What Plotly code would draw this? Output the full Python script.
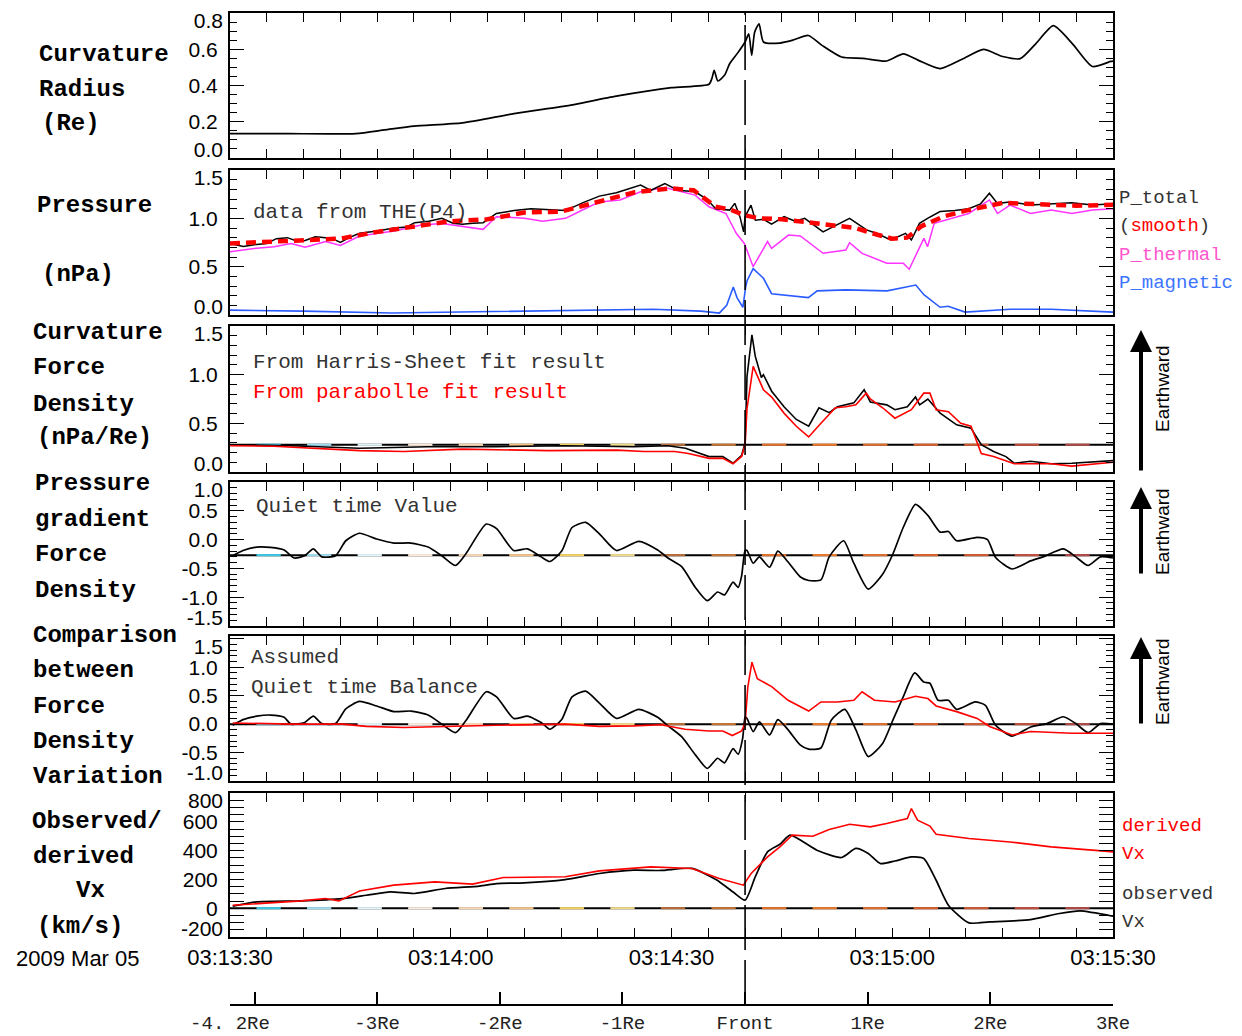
import pandas as pd
import plotly.graph_objects as go

# ---------------- data (time in seconds after 2009-03-05 03:13:30) ----------------
BASE = pd.Timestamp("2009-03-05 03:13:30")
T_END = 120
front_t = 70

curv_radius = [(0, 0.135), (8, 0.134), (17.1, 0.135), (21, 0.155), (25.0, 0.176), (31.6, 0.194),
               (38.6, 0.245), (45.5, 0.286), (52.5, 0.341), (60.0, 0.388), (65.1, 0.407), (65.5, 0.44),
               (65.8, 0.484), (66.3, 0.425), (67.2, 0.456), (67.9, 0.52), (69.0, 0.58), (70.0, 0.64),
               (70.5, 0.685), (70.9, 0.566), (71.3, 0.694), (71.9, 0.74), (72.5, 0.64), (74.7, 0.634),
               (76.5, 0.65), (78.6, 0.676), (80.5, 0.62), (83.1, 0.557), (86, 0.55), (89.2, 0.535),
               (91.5, 0.575), (93.5, 0.54), (96.5, 0.493), (99.5, 0.545), (102.4, 0.599), (105, 0.56),
               (107.4, 0.548), (109.5, 0.63), (111.9, 0.73), (114.5, 0.63), (117.2, 0.505),
               (119.7, 0.533), (120, 0.535)]

p_total = [(0, 0.74), (1.8, 0.71), (3.6, 0.73), (5.0, 0.74), (6.3, 0.79), (7.8, 0.80), (9.2, 0.76),
           (10.2, 0.77), (11.6, 0.81), (13.0, 0.80), (14.2, 0.78), (15.0, 0.75), (16.2, 0.80),
           (17.6, 0.845), (20.0, 0.87), (22.3, 0.90), (24.0, 0.91), (25.1, 0.955), (27.0, 0.97),
           (28.8, 1.0), (30.3, 0.95), (31.6, 0.94), (33.0, 0.95), (34.4, 0.955), (36.2, 1.05),
           (38.6, 1.08), (40.9, 1.10), (43.0, 1.09), (45.6, 1.08), (47.9, 1.16), (50.2, 1.23),
           (52.5, 1.265), (54.0, 1.30), (55.8, 1.345), (57.2, 1.29), (59.1, 1.36), (60.9, 1.29),
           (63.2, 1.275), (64.8, 1.20), (66.0, 1.10), (67.9, 1.085), (68.6, 1.155), (69.3, 1.017),
           (69.8, 0.86), (70.0, 1.017), (70.8, 1.137), (71.4, 0.98), (72.5, 0.99), (73.6, 0.94),
           (75.3, 1.017), (76.8, 0.97), (78.1, 1.0), (80.6, 0.86), (82.5, 0.93), (84.2, 1.0),
           (86.5, 0.88), (88.0, 0.84), (89.8, 0.776), (91.8, 0.845), (92.6, 0.776), (93.7, 0.948),
           (94.8, 1.0), (96.5, 1.07), (98.5, 1.08), (100.4, 1.10), (102.0, 1.15), (103.2, 1.26),
           (104.3, 1.155), (106.0, 1.17), (108.8, 1.137), (111.5, 1.15), (114.4, 1.16),
           (117.2, 1.137), (120.0, 1.15)]

p_smooth = [(0, 0.74), (5, 0.76), (10, 0.78), (15, 0.79), (20, 0.86), (25, 0.92), (30, 0.97),
            (35, 0.99), (40, 1.06), (45, 1.07), (50, 1.17), (55, 1.27), (60, 1.31), (63, 1.29),
            (66, 1.12), (68, 1.09), (70, 1.03), (72, 1.0), (75, 0.99), (80, 0.95), (85, 0.90),
            (88, 0.83), (90, 0.79), (92, 0.80), (94, 0.92), (97, 1.02), (100, 1.08), (105, 1.16),
            (110, 1.14), (115, 1.13), (120, 1.14)]

p_thermal = [(0, 0.655), (3.6, 0.69), (6.0, 0.705), (8.3, 0.74), (10.2, 0.70), (11.1, 0.72),
             (13.0, 0.76), (15.0, 0.72), (17.6, 0.817), (22.3, 0.87), (26.0, 0.93), (28.8, 0.947),
             (31.6, 0.913), (34.4, 0.886), (36.2, 1.017), (40.0, 1.0), (42.5, 0.97), (45.6, 1.0),
             (47.9, 1.086), (50.2, 1.17), (53.0, 1.19), (55.8, 1.275), (59.1, 1.32), (63.2, 1.24),
             (65.1, 1.12), (67.4, 1.05), (68.8, 0.845), (69.9, 0.74), (71.1, 0.5), (73.05, 0.76),
             (73.6, 0.69), (75.9, 0.827), (77.5, 0.817), (80.6, 0.638), (83.7, 0.672), (84.2, 0.748),
             (85.9, 0.638), (89.25, 0.535), (91.5, 0.535), (92.3, 0.473), (94.3, 0.793),
             (94.8, 0.706), (95.7, 0.948), (100.4, 1.05), (103.2, 1.19), (104.3, 1.05),
             (106.0, 1.137), (108.8, 1.05), (111.6, 1.086), (114.4, 1.05), (117.2, 1.086),
             (120, 1.10)]

p_magnetic = [(0, 0.05), (10, 0.04), (22, 0.02), (30, 0.03), (45.5, 0.05), (57.5, 0.06), (64, 0.04),
              (66.5, 0.02), (67.5, 0.10), (68.4, 0.29), (68.9, 0.18), (69.7, 0.08), (70.1, 0.30),
              (70.3, 0.36), (71.1, 0.48), (72.5, 0.38), (73.6, 0.22), (75.9, 0.20), (78.6, 0.18),
              (79.8, 0.25), (83.7, 0.26), (89.3, 0.25), (93.2, 0.31), (94.3, 0.21), (96.5, 0.08),
              (97.6, 0.09), (99.9, 0.03), (106, 0.06), (111.6, 0.06), (120, 0.03)]

curv_force_harris = [(0, 0.28), (8.3, 0.27), (17.6, 0.244), (26.9, 0.26), (36.2, 0.26), (45.5, 0.27),
                     (54.9, 0.26), (59.5, 0.27), (61.9, 0.244), (65.1, 0.158), (66.97, 0.158),
                     (68.36, 0.09), (69.53, 0.17), (70.0, 0.30), (70.26, 0.98), (70.93, 1.41),
                     (71.38, 1.19), (72.21, 0.97), (72.49, 0.999), (73.61, 0.83), (75.29, 0.67),
                     (76.96, 0.54), (78.64, 0.47), (80.04, 0.66), (81.43, 0.61), (82.55, 0.67),
                     (84.78, 0.71), (86.18, 0.845), (87.02, 0.72), (89.25, 0.69), (90.37, 0.64),
                     (92.05, 0.67), (93.16, 0.77), (93.72, 0.69), (94.84, 0.75), (96.51, 0.605),
                     (98.75, 0.485), (100.7, 0.45), (102.1, 0.28), (103.77, 0.21), (105.45, 0.158),
                     (106.57, 0.09), (108.8, 0.11), (111.6, 0.085), (114.39, 0.09), (120, 0.117)]

curv_force_parab = [(0, 0.27), (5.96, 0.265), (17.6, 0.22), (23.66, 0.21), (31.57, 0.235),
                    (43.22, 0.22), (52.53, 0.225), (56.26, 0.21), (60.45, 0.21), (62.31, 0.19),
                    (65.1, 0.14), (66.97, 0.14), (68.36, 0.085), (69.53, 0.16), (70.0, 0.28),
                    (70.26, 0.65), (71.1, 1.085), (72.49, 0.845), (73.61, 0.77), (75.29, 0.605),
                    (76.96, 0.47), (78.64, 0.36), (80.31, 0.50), (82.27, 0.66), (83.67, 0.67),
                    (85.06, 0.69), (86.46, 0.81), (87.02, 0.75), (88.69, 0.66), (90.37, 0.553),
                    (92.6, 0.64), (94.28, 0.81), (95.12, 0.81), (95.96, 0.64), (97.63, 0.62),
                    (99.31, 0.50), (100.7, 0.47), (102.1, 0.19), (103.77, 0.16), (106.57, 0.085),
                    (111.6, 0.085), (114.39, 0.06), (120, 0.10)]
curv_force_quiet = 0.28

press_grad = [(0.37, -0.28), (1.77, -0.19), (3.63, -0.13), (5.50, -0.135), (7.36, -0.18),
              (8.75, -0.32), (10.15, -0.28), (11.32, -0.16), (12.48, -0.30), (14.34, -0.28),
              (15.74, -0.02), (17.6, 0.11), (19.93, 0.01), (22.26, -0.06), (24.59, -0.06),
              (26.92, -0.13), (28.78, -0.28), (30.64, -0.45), (32.04, -0.25), (34.83, 0.27),
              (36.23, 0.19), (38.56, -0.19), (40.42, -0.16), (42.29, -0.30), (43.45, -0.38),
              (45.08, -0.2), (46.48, 0.21), (48.34, 0.30), (50.2, 0.10), (52.53, -0.19),
              (55.56, -0.03), (58.12, -0.18), (59.52, -0.32), (61.38, -0.47), (63.24, -0.83),
              (64.87, -1.06), (66.27, -0.91), (67.2, -0.96), (68.36, -0.74), (69.06, -0.83),
              (69.53, -0.63), (70.0, -0.19), (70.26, -0.19), (71.1, -0.41), (71.94, -0.30),
              (73.33, -0.48), (74.45, -0.2), (75.85, -0.39), (77.52, -0.65), (78.64, -0.71),
              (80.31, -0.70), (81.43, -0.30), (83.39, -0.02), (84.78, -0.41), (86.74, -0.86),
              (88.69, -0.6), (90.09, -0.25), (91.49, 0.21), (93.16, 0.61), (94.84, 0.42),
              (96.51, 0.13), (97.63, 0.14), (98.75, -0.02), (101.54, 0.04), (102.94, 0.0),
              (104.05, -0.31), (106.29, -0.51), (108.8, -0.37), (110.48, -0.30), (113.27, -0.16),
              (114.95, -0.30), (116.62, -0.45), (118.3, -0.30), (120, -0.32)]
press_grad_quiet = -0.27

cmp_pressure = [(0.37, -0.02), (1.77, 0.08), (3.63, 0.14), (5.5, 0.16), (7.36, 0.12), (8.29, 0.0),
                (10.15, 0.03), (11.32, 0.14), (12.48, 0.01), (14.34, 0.01), (15.74, 0.27),
                (17.6, 0.40), (19.93, 0.32), (22.26, 0.22), (24.59, 0.23), (26.92, 0.16),
                (28.78, 0.0), (30.64, -0.15), (32.04, 0.06), (34.83, 0.57), (36.23, 0.48),
                (38.56, 0.10), (40.42, 0.14), (42.29, 0.03), (43.45, -0.09), (45.08, 0.08),
                (46.48, 0.48), (48.34, 0.58), (50.2, 0.37), (52.53, 0.10), (55.56, 0.26),
                (58.12, 0.12), (59.52, -0.03), (61.38, -0.22), (63.24, -0.54), (64.87, -0.78),
                (66.27, -0.60), (67.2, -0.68), (68.36, -0.43), (69.06, -0.53), (69.67, -0.25),
                (70.0, 0.13), (70.26, 0.10), (71.1, -0.13), (71.94, 0.04), (73.33, -0.19),
                (74.45, 0.08), (75.85, -0.1), (77.52, -0.37), (78.64, -0.44), (80.31, -0.42),
                (81.71, 0.07), (83.55, 0.26), (85.06, -0.1), (86.74, -0.57), (88.69, -0.34),
                (90.09, 0.07), (91.49, 0.48), (93.05, 0.90), (94.28, 0.74), (95.12, 0.72),
                (96.23, 0.42), (97.63, 0.42), (98.75, 0.26), (101.26, 0.39), (102.66, 0.33),
                (104.05, -0.02), (106.29, -0.21), (108.8, -0.05), (111.04, 0.01), (113.27, 0.13),
                (114.95, 0.01), (116.62, -0.15), (118.3, 0.01), (120, 0.0)]

cmp_curvature = [(0.37, 0.02), (8.29, 0.0), (15.27, 0.0), (18.53, -0.04), (23.66, -0.06),
                 (29.25, -0.04), (36.23, -0.02), (45.55, 0.0), (50.2, -0.04), (54.86, -0.03),
                 (58.58, -0.01), (61.85, -0.09), (65.1, -0.12), (66.97, -0.12), (68.27, -0.2),
                 (69.53, -0.12), (70.0, 0.01), (70.37, 0.65), (70.93, 1.09), (71.66, 0.80),
                 (73.61, 0.66), (75.85, 0.42), (78.64, 0.23), (80.31, 0.39), (82.55, 0.39),
                 (84.78, 0.42), (85.9, 0.57), (87.58, 0.42), (90.37, 0.39), (93.16, 0.49),
                 (94.84, 0.45), (95.96, 0.32), (98.75, 0.22), (101.54, 0.1), (103.22, -0.04),
                 (106.29, -0.19), (108.8, -0.13), (114.39, -0.16), (120, -0.16)]
cmp_quiet = 0.0

vx_observed = [(0.37, 14), (3.63, 44), (9.69, 51), (15.27, 67), (18.53, 90), (21.79, 113),
               (25.05, 102), (29.25, 137), (33.9, 153), (36.23, 171), (39.96, 176), (45.55, 199),
               (50.2, 241), (54.86, 264), (58.58, 262), (62.78, 276), (66.04, 199), (68.36, 113),
               (70.0, 56), (71.38, 217), (73.05, 391), (74.73, 444), (76.12, 507), (79.76, 403),
               (83.11, 352), (85.06, 415), (86.74, 380), (88.41, 310), (90.37, 328), (92.6, 356),
               (94.28, 345), (95.96, 194), (97.63, 21), (100.42, -102), (103.22, -95),
               (108.8, -79), (112.71, -37), (115.5, -19), (120, -56)]

vx_derived = [(0.37, 21), (9.69, 51), (12.95, 67), (14.81, 51), (17.6, 120), (22.26, 160),
              (27.85, 183), (32.97, 167), (37.16, 213), (45.55, 218), (50.2, 259), (57.19, 287),
              (62.78, 276), (66.5, 206), (69.77, 160), (70.82, 241), (73.05, 356), (74.73, 426),
              (76.4, 507), (79.2, 500), (81.43, 546), (84.22, 583), (87.02, 565), (89.25, 588),
              (92.05, 623), (92.6, 692), (93.44, 611), (94.56, 583), (95.12, 570), (95.96, 514),
              (100.42, 484), (106.01, 460), (111.6, 426), (117.18, 403), (120, 391)]
vx_zero = 0

time_ticks_s = [0, 30, 60, 90, 120]
time_tick_labels = ["03:13:30", "03:14:00", "03:14:30", "03:15:00", "03:15:30"]
dist_ticks = [-4.2, -4, -3, -2, -1, 0, 1, 2, 3]
dist_tick_labels = ["-4. 2Re", "", "-3Re", "-2Re", "-1Re", "Front", "1Re", "2Re", "3Re"]

y_ticks = {
    1: ([0.0, 0.2, 0.4, 0.6, 0.8], ["0.0", "0.2", "0.4", "0.6", "0.8"]),
    2: ([0.0, 0.5, 1.0, 1.5], ["0.0", "0.5", "1.0", "1.5"]),
    3: ([0.0, 0.5, 1.0, 1.5], ["0.0", "0.5", "1.0", "1.5"]),
    4: ([-1.5, -1.0, -0.5, 0.0, 0.5, 1.0], ["-1.5", "-1.0", "-0.5", "0.0", "0.5", "1.0"]),
    5: ([-1.0, -0.5, 0.0, 0.5, 1.0, 1.5], ["-1.0", "-0.5", "0.0", "0.5", "1.0", "1.5"]),
    6: ([-200, 0, 200, 400, 600, 800], ["-200", "0", "200", "400", "600", "800"]),
}

# ---------------- style / layout ----------------
W, H = 1242, 1036
MONO = "Liberation Mono"
SANS = "Liberation Sans"
RED = "#ff0000"
MAGENTA = "#ff33ff"
BLUE = "#2a5cff"
EDGE_LABEL_INSET = 0.062   # edge tick labels drawn slightly inside the frame, as in the original


def px(x):
    return x / W


def py(y):
    return 1 - y / H


def T(secs):
    return [BASE + pd.Timedelta(seconds=float(s)) for s in secs]


panel_px = {1: (13, 158), 2: (170, 315), 3: (326, 472), 4: (482, 626), 5: (636, 781), 6: (793, 937)}
y_ranges = {1: [0, 0.8], 2: [0, 1.5], 3: [0, 1.5], 4: [-1.5, 1.0], 5: [-1.0, 1.55], 6: [-200, 800]}
y_minor = {1: 0.05, 2: 0.1, 3: 0.1, 4: 0.1, 5: 0.1, 6: 50}
X_DOM = [px(230), px(1113)]

fig = go.Figure()


def ax(n, kind):
    return kind if n == 1 else f"{kind}{n}"


def add_line(series, n, color, width=1.6, dash=None, smooth=False):
    t, v = zip(*series)
    line = dict(color=color, width=width, dash=dash)
    if smooth:
        line.update(shape="spline", smoothing=0.6)
    fig.add_trace(go.Scatter(x=T(t), y=list(v), xaxis=ax(n, "x"), yaxis=ax(n, "y"), mode="lines",
                             line=line, showlegend=False, hoverinfo="skip"))


# quiet-time reference lines: black base with colored dash segments
SEG_OFFSET, SEG_PERIOD, SEG_LEN = 3.6, 6.87, 3.3
seg_colors = ["#3ec8e6", "#9fdcef", "#e2f3f9", "#fbeadf", "#f6d6b4", "#f2c287", "#f1d062",
              "#eed98c", "#b96f3d", "#c47436", "#e2722c", "#ea7a2c", "#e07030", "#d9622e",
              "#d05c36", "#c05040", "#b04a48"]


def quiet_line(n, q):
    fig.add_trace(go.Scatter(x=T([0, T_END]), y=[q, q], xaxis=ax(n, "x"), yaxis=ax(n, "y"),
                             mode="lines", line=dict(color="black", width=2),
                             showlegend=False, hoverinfo="skip"))
    for i, c in enumerate(seg_colors):
        s = SEG_OFFSET + i * SEG_PERIOD
        if s >= T_END:
            break
        e = min(s + SEG_LEN, T_END)
        fig.add_trace(go.Scatter(x=T([s, e]), y=[q, q], xaxis=ax(n, "x"), yaxis=ax(n, "y"),
                                 mode="lines", line=dict(color=c, width=2.2),
                                 showlegend=False, hoverinfo="skip"))


# panel 1
add_line(curv_radius, 1, "black", 1.7, smooth=True)
# panel 2
add_line(p_thermal, 2, MAGENTA, 1.5)
add_line(p_magnetic, 2, BLUE, 1.6)
add_line(p_total, 2, "black", 1.5)
add_line(p_smooth, 2, RED, 4.5, dash="10px,6px")
# panel 3
quiet_line(3, curv_force_quiet)
add_line(curv_force_harris, 3, "black", 1.6)
add_line(curv_force_parab, 3, RED, 1.6)
# panel 4
quiet_line(4, press_grad_quiet)
add_line(press_grad, 4, "black", 1.7, smooth=True)
# panel 5
quiet_line(5, cmp_quiet)
add_line(cmp_pressure, 5, "black", 1.7, smooth=True)
add_line(cmp_curvature, 5, RED, 1.6)
# panel 6
quiet_line(6, vx_zero)
add_line(vx_observed, 6, "black", 1.7, smooth=True)
add_line(vx_derived, 6, RED, 1.6)

# distance axis carrier (invisible)
fig.add_trace(go.Scatter(x=dist_ticks, y=[None] * len(dist_ticks), xaxis="x7", yaxis="y6",
                         mode="markers", showlegend=False, hoverinfo="skip"))

layout = dict(width=W, height=H, margin=dict(l=0, r=0, t=0, b=0, autoexpand=False),
              paper_bgcolor="white", plot_bgcolor="white", showlegend=False)

TICKFONT = dict(family=SANS, size=21, color="black")

for n in range(1, 7):
    top, bot = panel_px[n]
    xa = dict(domain=X_DOM, anchor=ax(n, "y"), type="date", automargin=False,
              range=T([0, T_END]), showline=True, linecolor="black", linewidth=2,
              mirror="allticks", ticks="inside", ticklen=9, tickwidth=1.4, tickcolor="black",
              tickvals=T(time_ticks_s), ticktext=time_tick_labels,
              minor=dict(ticks="inside", ticklen=5, tickwidth=1.2, tickcolor="black",
                         tick0=BASE, dtick=5000),
              showgrid=False, zeroline=False, showticklabels=(n == 6),
              tickfont=dict(family=SANS, size=22, color="black"))
    if n > 1:
        xa["matches"] = "x"
    tv, tt = y_ticks[n]
    inner_text = [""] + tt[1:-1] + [""]
    ya = dict(domain=[py(bot), py(top)], anchor=ax(n, "x"), range=y_ranges[n], automargin=False,
              showline=True, linecolor="black", linewidth=2, mirror="allticks",
              ticks="inside", ticklen=14, tickwidth=1.4, tickcolor="black",
              tickvals=tv, ticktext=inner_text,
              minor=dict(ticks="inside", ticklen=7, tickwidth=1.2, tickcolor="black",
                         tick0=0, dtick=y_minor[n]),
              showgrid=False, zeroline=False, ticklabelstandoff=6, tickfont=TICKFONT)
    layout[ax(n, "xaxis")] = xa
    layout[ax(n, "yaxis")] = ya
    # edge labels (first/last) on an overlay axis whose range is slightly widened
    lo, hi = y_ranges[n]
    pad = (hi - lo) * EDGE_LABEL_INSET
    layout[f"yaxis{10 + n}"] = dict(domain=[py(bot), py(top)], anchor=ax(n, "x"),
                                    overlaying=ax(n, "y"), side="left", automargin=False,
                                    range=[lo - pad, hi + pad], showline=False, ticks="",
                                    tickvals=[tv[0], tv[-1]], ticktext=[tt[0], tt[-1]],
                                    showgrid=False, zeroline=False, ticklabelstandoff=6,
                                    tickfont=TICKFONT)
    fig.add_trace(go.Scatter(x=T([0]), y=[None], xaxis=ax(n, "x"), yaxis=f"y{10 + n}",
                             mode="markers", showlegend=False, hoverinfo="skip"))

layout["xaxis7"] = dict(domain=X_DOM, anchor="free", position=py(1005), overlaying="x6",
                        range=[-4.2, 3.0], showline=True, linecolor="black", linewidth=2,
                        ticks="inside", ticklen=12, tickwidth=1.5, tickcolor="black",
                        tickvals=dist_ticks, ticktext=dist_tick_labels, side="bottom",
                        showgrid=False, zeroline=False, automargin=False,
                        tickfont=dict(family=MONO, size=19, color="#222"))

fig.update_layout(**layout)

# front marker (dashed vertical line through all panels)
fig.add_shape(type="line", xref="x", yref="paper", x0=T([front_t])[0], x1=T([front_t])[0],
              y0=py(1005), y1=py(13), line=dict(color="black", width=1.6, dash="45px,10px"))

annotations = []


def txt(s, x, y, size, color="black", family=MONO, weight="normal", xanchor="left", angle=0):
    annotations.append(dict(text=s, x=px(x), y=py(y), xref="paper", yref="paper",
                            xanchor=xanchor, yanchor="middle", showarrow=False, textangle=angle,
                            font=dict(family=family, size=size, color=color, weight=weight)))


left_labels = [("Curvature", 37, 54), ("Radius", 37, 89), ("(Re)", 40, 124),
               ("Pressure", 35, 206), ("(nPa)", 40, 275),
               ("Curvature", 31, 332), ("Force", 31, 368), ("Density", 31, 404), ("(nPa/Re)", 35, 438),
               ("Pressure", 33, 484), ("gradient", 33, 519), ("Force", 33, 554), ("Density", 33, 590),
               ("Comparison", 31, 635), ("between", 31, 670), ("Force", 31, 706), ("Density", 31, 741),
               ("Variation", 31, 776),
               ("Observed/", 30, 821), ("derived", 31, 856), ("Vx", 74, 890), ("(km/s)", 35, 926)]
for s, x, y in left_labels:
    txt(s, x, y, 24, weight="bold")

txt("2009 Mar 05", 14, 958, 22, family=SANS)

txt("data from THE(P4)", 251, 212, 21, color="#333")
txt("From Harris-Sheet fit result", 251, 362, 21, color="#333")
txt("From parabolle fit result", 251, 392, 21, color=RED)
txt("Quiet time Value", 254, 507, 21, color="#333")
txt("Assumed", 249, 657, 21, color="#333")
txt("Quiet time Balance", 249, 687, 21, color="#333")

txt("P_total", 1117, 198, 19, color="#333")
txt("(<span style='color:#ff0000'>smooth</span>)", 1117, 226, 19, color="#333")
txt("P_thermal", 1117, 255, 19, color="#ff55cc")
txt("P_magnetic", 1117, 283, 19, color="#3c74ff")
txt("derived", 1120, 826, 19, color=RED)
txt("Vx", 1120, 854, 19, color=RED)
txt("observed", 1120, 894, 19, color="#333")
txt("Vx", 1120, 922, 19, color="#333")

for tip, tail, mid in [(330, 472, 389), (487, 575, 532), (637, 725, 682)]:
    annotations.append(dict(x=px(1141), y=py(tip), xref="paper", yref="paper", text="",
                            showarrow=True, ax=0, ay=tail - tip, arrowhead=2, arrowsize=1.1,
                            arrowwidth=4, arrowcolor="black"))
    txt("Earthward", 1162, mid, 19, family=SANS, xanchor="center", angle=-90)

fig.update_layout(annotations=annotations)

fig.write_html("out.html")
